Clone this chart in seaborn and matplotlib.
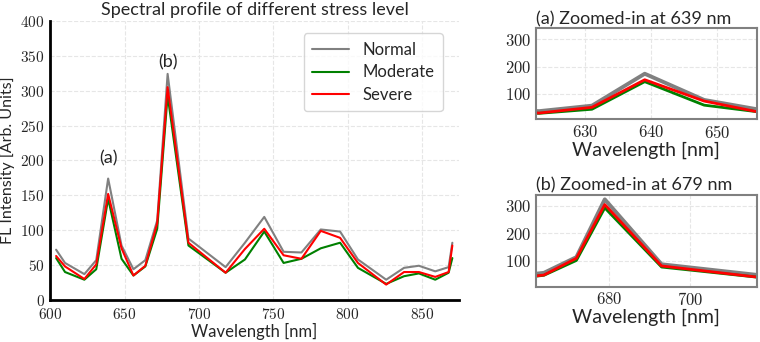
import numpy as np
import pandas as pd
import matplotlib
matplotlib.use("Agg")
import matplotlib.pyplot as plt
import seaborn as sns
from matplotlib.ticker import FuncFormatter

# wavelengths (nm) and intensities
wavelength = [604, 610, 623, 631, 639, 648, 656, 664, 672, 679, 693, 718, 731,
              744, 757, 769, 782, 795, 807, 826, 838, 848, 859, 868, 870.5]
normal = [72, 53, 37, 57, 174, 78, 44, 57, 114, 324, 88, 47, 82,
          119, 69, 68, 101, 98, 58, 29, 46, 49, 41, 47, 82]
moderate = [60, 40, 29, 44, 145, 59, 35, 48, 102, 293, 78, 39, 58,
            98, 53, 59, 74, 82, 46, 23, 34, 38, 29, 39, 60]
severe = [63, 48, 30, 51, 152, 74, 35, 49, 110, 305, 82, 39, 73,
          102, 64, 59, 99, 89, 53, 22, 40, 40, 33, 40, 78]

levels = ["Normal", "Moderate", "Severe"]
colors = {"Normal": "gray", "Moderate": "green", "Severe": "red"}

df = pd.concat([
    pd.DataFrame({"Wavelength": wavelength, "Intensity": vals, "Level": name})
    for name, vals in zip(levels, [normal, moderate, severe])
])

sns.set_style("whitegrid", {"grid.linestyle": "--", "grid.color": "#e6e6e6"})
plt.rcParams["font.family"] = ["Lato", "DejaVu Sans"]
plt.rcParams["mathtext.fontset"] = "cm"

cm_fmt = FuncFormatter(lambda v, p: f"${v:g}$")

fig = plt.figure(figsize=(7.6, 3.42), dpi=100)
ax = fig.add_axes([0.066, 0.123, 0.538, 0.816])
ax_a = fig.add_axes([0.705, 0.651, 0.291, 0.266])
ax_b = fig.add_axes([0.705, 0.162, 0.291, 0.268])

# main spectrum
sns.lineplot(data=df, x="Wavelength", y="Intensity", hue="Level", hue_order=levels,
             palette=colors, lw=1.5, ax=ax, sort=False)
ax.set_xlim(600, 875)
ax.set_ylim(0, 400)
ax.set_xticks(np.arange(600, 851, 50))
ax.set_yticks(np.arange(0, 401, 50))
ax.xaxis.set_major_formatter(cm_fmt)
ax.yaxis.set_major_formatter(cm_fmt)
ax.tick_params(labelsize=11, length=3, width=1.2)
ax.tick_params(axis="x", pad=2)
ax.tick_params(axis="y", pad=1)
ax.set_xlabel("Wavelength [nm]", fontsize=12, labelpad=1)
ax.set_ylabel("FL Intensity [Arb. Units]", fontsize=11.5)
ax.yaxis.set_label_coords(-0.087, 0.5)
ax.set_title("Spectral profile of different stress level", fontsize=13, pad=4)
for s in ["top", "right"]:
    ax.spines[s].set_visible(False)
for s in ["left", "bottom"]:
    ax.spines[s].set_color("black")
    ax.spines[s].set_linewidth(2)
ax.text(639, 203, "(a)", fontsize=13, ha="center", va="center")
ax.text(679, 340, "(b)", fontsize=13, ha="center", va="center")
leg = ax.legend(loc="upper right", fontsize=12, handlelength=2.2, borderpad=0.5,
                labelspacing=0.4, bbox_to_anchor=(0.98, 0.985))
leg.set_title(None)

# zoomed insets
for a, lim, ticks, title in [
    (ax_a, (622.5, 656), [630, 640, 650], "(a) Zoomed-in at 639 nm"),
    (ax_b, (662, 716.5), [680, 700], "(b) Zoomed-in at 679 nm"),
]:
    for name, w in zip(levels, [2.8, 2.0, 2.0]):
        sub = df[df["Level"] == name]
        sns.lineplot(data=sub, x="Wavelength", y="Intensity", color=colors[name],
                     lw=w, ax=a, sort=False, legend=False)
    a.set_xlim(*lim)
    a.set_ylim(7, 340)
    a.set_xticks(ticks)
    a.set_yticks([100, 200, 300])
    a.xaxis.set_major_formatter(cm_fmt)
    a.yaxis.set_major_formatter(cm_fmt)
    a.tick_params(labelsize=12, length=0, pad=3)
    a.set_xlabel("Wavelength [nm]", fontsize=14, labelpad=1)
    a.set_ylabel("")
    a.set_title(title, fontsize=13, loc="left", pad=3, x=0.0)
    for s in a.spines.values():
        s.set_color("gray")
        s.set_linewidth(1.5)

fig.savefig("out.png", dpi=100)
